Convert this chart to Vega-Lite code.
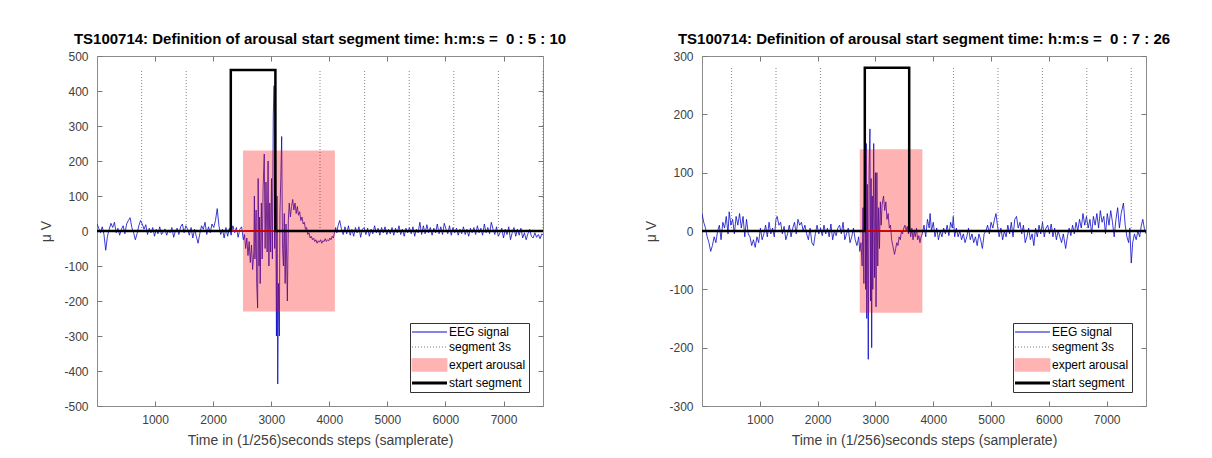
{
  "$schema": "https://vega.github.io/schema/vega-lite/v6.json",
  "background": "white",
  "padding": {"left": 39, "top": 31, "right": 0, "bottom": 0},
  "spacing": 77,
  "config": {
    "font": "Liberation Sans",
    "view": {"stroke": "#8c8c8c", "strokeWidth": 1},
    "axis": {"grid": false, "domain": false, "tickSize": -5, "tickColor": "#7a7a7a", "labelFont": "Liberation Sans", "labelFontSize": 12, "labelColor": "#404040", "titleFont": "Liberation Sans", "titleFontSize": 14, "titleFontWeight": "normal", "titleColor": "#404040", "labelExpr": "'' + datum.value"},
    "title": {"font": "Liberation Sans", "fontSize": 15, "fontWeight": "bold", "color": "#000000", "offset": 3, "anchor": "middle"},
    "legend": {"orient": "bottom-right", "offset": 14, "title": null, "padding": 3, "strokeColor": "#333333", "fillColor": "white", "labelFont": "Liberation Sans", "labelFontSize": 12, "labelColor": "#000000", "symbolType": "stroke", "symbolSize": 196, "rowPadding": 3, "labelOffset": 24, "symbolStrokeWidth": 1}
  },
  "resolve": {"scale": {"color": "independent"}, "legend": {"color": "independent"}},
  "datasets": {
    "eegA": [
      {"t":0,"v":20},{"t":30,"v":8},{"t":60,"v":-5},{"t":90,"v":12},{"t":120,"v":-10},{"t":150,"v":-55},{"t":180,"v":-15},{"t":210,"v":5},{"t":240,"v":22},{"t":270,"v":10},{"t":300,"v":25},{"t":330,"v":-5},{"t":360,"v":8},{"t":390,"v":-12},{"t":420,"v":5},{"t":450,"v":15},{"t":480,"v":-8},{"t":510,"v":20},{"t":540,"v":30},{"t":570,"v":38},{"t":600,"v":10},{"t":630,"v":-5},{"t":660,"v":-25},{"t":690,"v":-8},{"t":720,"v":15},{"t":750,"v":30},{"t":780,"v":20},{"t":810,"v":5},{"t":840,"v":18},{"t":870,"v":-10},{"t":900,"v":8},{"t":930,"v":-5},{"t":960,"v":10},{"t":990,"v":-15},{"t":1020,"v":5},{"t":1050,"v":-8},{"t":1080,"v":12},{"t":1110,"v":-10},{"t":1140,"v":-3},{"t":1170,"v":6},{"t":1200,"v":-12},{"t":1230,"v":3},{"t":1260,"v":-5},{"t":1290,"v":10},{"t":1320,"v":-18},{"t":1350,"v":0},{"t":1380,"v":8},{"t":1410,"v":-10},{"t":1440,"v":12},{"t":1470,"v":20},{"t":1500,"v":-5},{"t":1530,"v":15},{"t":1560,"v":5},{"t":1590,"v":-12},{"t":1620,"v":10},{"t":1650,"v":-20},{"t":1680,"v":5},{"t":1710,"v":-15},{"t":1740,"v":-35},{"t":1770,"v":-8},{"t":1800,"v":15},{"t":1830,"v":5},{"t":1860,"v":25},{"t":1890,"v":-10},{"t":1920,"v":12},{"t":1950,"v":-5},{"t":1980,"v":20},{"t":2010,"v":10},{"t":2040,"v":30},{"t":2070,"v":64},{"t":2100,"v":15},{"t":2130,"v":-10},{"t":2160,"v":5},{"t":2190,"v":-20},{"t":2220,"v":10},{"t":2250,"v":-15},{"t":2280,"v":8},{"t":2310,"v":-12},{"t":2340,"v":15},{"t":2370,"v":-5},{"t":2400,"v":10},{"t":2430,"v":-18},{"t":2460,"v":5},{"t":2490,"v":12},{"t":2520,"v":-25},
      {"t":2540,"v":-10},{"t":2560,"v":-50},{"t":2580,"v":-20},{"t":2600,"v":-70},{"t":2620,"v":-30},{"t":2640,"v":-90},{"t":2660,"v":-40},{"t":2680,"v":-110},{"t":2700,"v":-60},{"t":2710,"v":100},{"t":2720,"v":-80},{"t":2740,"v":60},{"t":2750,"v":-150},{"t":2766,"v":-220},{"t":2775,"v":150},{"t":2790,"v":-100},{"t":2800,"v":40},{"t":2810,"v":-150},{"t":2830,"v":80},{"t":2845,"v":-80},{"t":2860,"v":120},{"t":2880,"v":220},{"t":2895,"v":-50},{"t":2910,"v":140},{"t":2930,"v":-60},{"t":2946,"v":200},{"t":2960,"v":-100},{"t":2975,"v":80},{"t":2990,"v":-60},{"t":3005,"v":150},{"t":3020,"v":-80},{"t":3035,"v":330},{"t":3050,"v":415},{"t":3060,"v":-50},{"t":3075,"v":200},{"t":3090,"v":-300},{"t":3100,"v":100},{"t":3112,"v":-437},{"t":3125,"v":-150},{"t":3140,"v":-300},{"t":3150,"v":50},{"t":3165,"v":150},{"t":3180,"v":270},{"t":3195,"v":-50},{"t":3210,"v":-100},{"t":3225,"v":50},{"t":3240,"v":-150},{"t":3255,"v":20},{"t":3278,"v":-200},{"t":3295,"v":30},{"t":3310,"v":80},{"t":3330,"v":40},{"t":3350,"v":70},{"t":3370,"v":90},{"t":3390,"v":60},{"t":3410,"v":80},{"t":3430,"v":50},{"t":3450,"v":70},{"t":3470,"v":45},{"t":3490,"v":55},{"t":3510,"v":30},{"t":3530,"v":40},{"t":3550,"v":20},{"t":3570,"v":25},{"t":3590,"v":5},{"t":3610,"v":10},{"t":3630,"v":-10},{"t":3650,"v":-5},{"t":3670,"v":-20},{"t":3690,"v":-15},{"t":3710,"v":-25},{"t":3730,"v":-20},{"t":3750,"v":-30},{"t":3770,"v":-25},{"t":3790,"v":-35},{"t":3810,"v":-28},{"t":3830,"v":-32},{"t":3850,"v":-25},{"t":3870,"v":-35},{"t":3890,"v":-28},{"t":3910,"v":-30},{"t":3930,"v":-22},{"t":3950,"v":-30},{"t":3970,"v":-25},{"t":3990,"v":-28},{"t":4010,"v":-20},{"t":4030,"v":-25},{"t":4050,"v":-15},{"t":4070,"v":-20},{"t":4090,"v":-5},{"t":4110,"v":10},{"t":4130,"v":-5},{"t":4150,"v":15},{"t":4180,"v":30},{"t":4210,"v":5},
      {"t":4240,"v":-10},{"t":4270,"v":12},{"t":4300,"v":-8},{"t":4330,"v":15},{"t":4360,"v":-12},{"t":4390,"v":5},{"t":4420,"v":-15},{"t":4450,"v":10},{"t":4480,"v":-5},{"t":4510,"v":12},{"t":4540,"v":-18},{"t":4570,"v":5},{"t":4600,"v":10},{"t":4630,"v":-10},{"t":4660,"v":8},{"t":4690,"v":-15},{"t":4720,"v":5},{"t":4750,"v":-8},{"t":4780,"v":15},{"t":4810,"v":-5},{"t":4840,"v":8},{"t":4870,"v":-12},{"t":4900,"v":10},{"t":4930,"v":-5},{"t":4960,"v":12},{"t":4990,"v":-10},{"t":5020,"v":5},{"t":5050,"v":-8},{"t":5080,"v":10},{"t":5110,"v":-12},{"t":5140,"v":8},{"t":5170,"v":-5},{"t":5200,"v":15},{"t":5230,"v":-10},{"t":5260,"v":5},{"t":5290,"v":-15},{"t":5320,"v":8},{"t":5350,"v":-5},{"t":5380,"v":10},{"t":5410,"v":-8},{"t":5440,"v":12},{"t":5470,"v":-15},{"t":5500,"v":5},{"t":5530,"v":-5},{"t":5560,"v":25},{"t":5590,"v":-10},{"t":5620,"v":15},{"t":5650,"v":-8},{"t":5680,"v":18},{"t":5710,"v":-5},{"t":5740,"v":10},{"t":5770,"v":-12},{"t":5800,"v":8},{"t":5830,"v":-5},{"t":5860,"v":20},{"t":5890,"v":-8},{"t":5920,"v":12},{"t":5950,"v":-10},{"t":5980,"v":22},{"t":6010,"v":5},{"t":6040,"v":-8},{"t":6070,"v":15},{"t":6100,"v":-12},{"t":6130,"v":10},{"t":6160,"v":-5},{"t":6190,"v":8},{"t":6220,"v":-12},{"t":6250,"v":5},{"t":6280,"v":-8},{"t":6310,"v":12},{"t":6340,"v":-10},{"t":6370,"v":5},{"t":6400,"v":-15},{"t":6430,"v":8},{"t":6460,"v":-5},{"t":6490,"v":10},{"t":6520,"v":-10},{"t":6550,"v":15},{"t":6580,"v":-5},{"t":6610,"v":8},{"t":6640,"v":-12},{"t":6670,"v":20},{"t":6700,"v":-5},{"t":6730,"v":10},{"t":6760,"v":-8},{"t":6790,"v":25},{"t":6820,"v":5},{"t":6850,"v":-10},{"t":6880,"v":12},{"t":6910,"v":-15},{"t":6940,"v":-5},{"t":6970,"v":8},{"t":7000,"v":-20},{"t":7030,"v":5},{"t":7060,"v":-10},{"t":7090,"v":12},{"t":7120,"v":-25},{"t":7150,"v":-5},{"t":7180,"v":10},{"t":7210,"v":-15},{"t":7240,"v":5},{"t":7270,"v":-12},{"t":7300,"v":8},{"t":7330,"v":-20},{"t":7360,"v":-5},{"t":7390,"v":-25},{"t":7420,"v":-8},{"t":7450,"v":5},{"t":7480,"v":-15},{"t":7510,"v":-20},{"t":7540,"v":-5},{"t":7570,"v":-18},{"t":7600,"v":-10},{"t":7630,"v":-22},{"t":7660,"v":-8},{"t":7680,"v":-12}
    ],
    "eegB": [
      {"t":0,"v":30},{"t":30,"v":15},{"t":60,"v":5},{"t":90,"v":-10},{"t":120,"v":-20},{"t":150,"v":-35},{"t":180,"v":-25},{"t":210,"v":-10},{"t":240,"v":-20},{"t":270,"v":0},{"t":300,"v":10},{"t":330,"v":-15},{"t":360,"v":15},{"t":390,"v":5},{"t":420,"v":25},{"t":450,"v":-5},{"t":470,"v":33},{"t":500,"v":10},{"t":530,"v":20},{"t":560,"v":-5},{"t":590,"v":25},{"t":620,"v":10},{"t":650,"v":30},{"t":680,"v":5},{"t":710,"v":25},{"t":740,"v":-10},{"t":770,"v":20},{"t":800,"v":-5},{"t":830,"v":-10},{"t":860,"v":-25},{"t":890,"v":-15},{"t":920,"v":-28},{"t":950,"v":-10},{"t":980,"v":-20},{"t":1010,"v":5},{"t":1040,"v":-15},{"t":1070,"v":-5},{"t":1100,"v":10},{"t":1130,"v":-10},{"t":1160,"v":15},{"t":1190,"v":-5},{"t":1220,"v":5},{"t":1250,"v":-10},{"t":1280,"v":20},{"t":1300,"v":25},{"t":1330,"v":10},{"t":1360,"v":15},{"t":1390,"v":-5},{"t":1420,"v":8},{"t":1450,"v":-15},{"t":1480,"v":-5},{"t":1510,"v":10},{"t":1540,"v":-10},{"t":1570,"v":5},{"t":1600,"v":15},{"t":1630,"v":-5},{"t":1660,"v":20},{"t":1690,"v":10},{"t":1720,"v":15},{"t":1750,"v":0},{"t":1780,"v":10},{"t":1810,"v":-5},{"t":1840,"v":-15},{"t":1870,"v":5},{"t":1900,"v":-20},{"t":1930,"v":-25},{"t":1960,"v":-5},{"t":1990,"v":10},{"t":2020,"v":-5},{"t":2050,"v":5},{"t":2080,"v":-8},{"t":2110,"v":10},{"t":2140,"v":-5},{"t":2170,"v":5},{"t":2200,"v":-10},{"t":2230,"v":12},{"t":2260,"v":-15},{"t":2290,"v":0},{"t":2320,"v":-8},{"t":2350,"v":5},{"t":2380,"v":10},{"t":2410,"v":-5},{"t":2440,"v":15},{"t":2470,"v":-15},{"t":2500,"v":-5},{"t":2530,"v":5},{"t":2560,"v":-20},{"t":2590,"v":-10},{"t":2620,"v":5},{"t":2650,"v":-15},{"t":2680,"v":-25},{"t":2710,"v":-10},{"t":2730,"v":-35},
      {"t":2750,"v":-20},{"t":2770,"v":-60},{"t":2785,"v":40},{"t":2800,"v":-90},{"t":2812,"v":120},{"t":2822,"v":250},{"t":2830,"v":-100},{"t":2840,"v":150},{"t":2850,"v":-150},{"t":2860,"v":80},{"t":2876,"v":-220},{"t":2890,"v":100},{"t":2905,"v":175},{"t":2915,"v":-120},{"t":2925,"v":90},{"t":2935,"v":-200},{"t":2945,"v":60},{"t":2955,"v":-100},{"t":2970,"v":150},{"t":2985,"v":-80},{"t":3000,"v":100},{"t":3010,"v":-130},{"t":3025,"v":100},{"t":3040,"v":-60},{"t":3055,"v":40},{"t":3070,"v":-30},{"t":3085,"v":50},{"t":3100,"v":10},{"t":3115,"v":45},{"t":3140,"v":60},{"t":3160,"v":35},{"t":3180,"v":50},{"t":3200,"v":20},{"t":3220,"v":30},{"t":3240,"v":5},{"t":3260,"v":10},{"t":3280,"v":-15},{"t":3300,"v":-25},{"t":3330,"v":-40},{"t":3350,"v":-30},{"t":3370,"v":-20},{"t":3390,"v":-25},{"t":3410,"v":-10},{"t":3430,"v":-15},{"t":3450,"v":0},{"t":3470,"v":-5},{"t":3490,"v":5},{"t":3510,"v":10},{"t":3530,"v":0},{"t":3550,"v":8},{"t":3570,"v":-5},{"t":3590,"v":10},{"t":3610,"v":-10},{"t":3630,"v":5},{"t":3650,"v":-15},{"t":3670,"v":0},{"t":3690,"v":-10},{"t":3710,"v":5},{"t":3730,"v":-15},{"t":3750,"v":-8},{"t":3770,"v":-20},{"t":3790,"v":-10},{"t":3810,"v":-5},
      {"t":3840,"v":10},{"t":3870,"v":-10},{"t":3900,"v":20},{"t":3930,"v":5},{"t":3945,"v":30},{"t":3970,"v":0},{"t":4000,"v":15},{"t":4030,"v":-10},{"t":4060,"v":5},{"t":4090,"v":-15},{"t":4120,"v":0},{"t":4150,"v":-10},{"t":4180,"v":5},{"t":4210,"v":-5},{"t":4240,"v":10},{"t":4270,"v":-8},{"t":4300,"v":15},{"t":4330,"v":5},{"t":4346,"v":25},{"t":4370,"v":-10},{"t":4400,"v":5},{"t":4430,"v":-10},{"t":4460,"v":0},{"t":4490,"v":-15},{"t":4520,"v":-5},{"t":4550,"v":-20},{"t":4580,"v":-10},{"t":4610,"v":5},{"t":4640,"v":-15},{"t":4670,"v":-5},{"t":4700,"v":-20},{"t":4730,"v":-10},{"t":4760,"v":-25},{"t":4790,"v":-5},{"t":4820,"v":-15},{"t":4850,"v":-30},{"t":4880,"v":-5},{"t":4910,"v":0},{"t":4940,"v":10},{"t":4970,"v":-5},{"t":5000,"v":15},{"t":5030,"v":5},{"t":5060,"v":20},{"t":5085,"v":30},{"t":5110,"v":10},{"t":5140,"v":-10},{"t":5170,"v":5},{"t":5200,"v":-15},{"t":5230,"v":0},{"t":5260,"v":-10},{"t":5290,"v":10},{"t":5320,"v":-5},{"t":5350,"v":15},{"t":5380,"v":-10},{"t":5410,"v":20},{"t":5440,"v":25},{"t":5470,"v":5},{"t":5500,"v":15},{"t":5530,"v":-5},{"t":5560,"v":10},{"t":5590,"v":-20},{"t":5620,"v":-10},{"t":5650,"v":5},{"t":5680,"v":-15},{"t":5710,"v":-5},{"t":5740,"v":-25},{"t":5770,"v":5},{"t":5800,"v":-10},{"t":5830,"v":10},{"t":5860,"v":-5},{"t":5890,"v":15},{"t":5920,"v":-10},{"t":5950,"v":5},{"t":5980,"v":10},{"t":6010,"v":-5},{"t":6040,"v":12},{"t":6070,"v":-10},{"t":6100,"v":5},{"t":6130,"v":-15},{"t":6160,"v":0},{"t":6190,"v":-10},{"t":6220,"v":-20},{"t":6250,"v":-5},{"t":6290,"v":-30},{"t":6320,"v":-10},{"t":6350,"v":5},{"t":6380,"v":-8},{"t":6410,"v":10},{"t":6440,"v":-5},{"t":6470,"v":15},{"t":6500,"v":0},{"t":6530,"v":20},{"t":6560,"v":5},{"t":6590,"v":30},{"t":6620,"v":10},{"t":6650,"v":25},{"t":6680,"v":5},{"t":6710,"v":20},{"t":6740,"v":-5},{"t":6770,"v":25},{"t":6800,"v":10},{"t":6830,"v":30},{"t":6860,"v":5},{"t":6890,"v":35},{"t":6920,"v":15},{"t":6950,"v":25},{"t":6980,"v":-5},{"t":7010,"v":30},{"t":7040,"v":10},{"t":7070,"v":35},{"t":7100,"v":15},{"t":7130,"v":-10},{"t":7160,"v":20},{"t":7190,"v":40},{"t":7220,"v":5},{"t":7250,"v":30},{"t":7290,"v":48},{"t":7320,"v":10},{"t":7350,"v":-10},{"t":7380,"v":-20},{"t":7400,"v":5},{"t":7425,"v":-55},{"t":7450,"v":-20},{"t":7480,"v":-5},{"t":7510,"v":-15},{"t":7540,"v":0},{"t":7570,"v":-10},{"t":7600,"v":10},{"t":7625,"v":20},{"t":7650,"v":5},{"t":7680,"v":-5}
    ],
    "segA": [{"t":768},{"t":1536},{"t":2304},{"t":3072},{"t":3840},{"t":4608},{"t":5376},{"t":6144},{"t":6912},{"t":7680}],
    "segB": [{"t":512},{"t":1280},{"t":2048},{"t":2816},{"t":3584},{"t":4352},{"t":5120},{"t":5888},{"t":6656},{"t":7424}],
    "arA": [{"t1":2514,"t2":4096,"lo":-230,"hi":230}],
    "arB": [{"t1":2728,"t2":3812,"lo":-140,"hi":140}],
    "startA": [{"i":0,"t":0,"v":0},{"i":1,"t":2304,"v":0},{"i":2,"t":2304,"v":460},{"i":3,"t":3072,"v":460},{"i":4,"t":3072,"v":0},{"i":5,"t":7680,"v":0}],
    "startB": [{"i":0,"t":0,"v":0},{"i":1,"t":2816,"v":0},{"i":2,"t":2816,"v":280},{"i":3,"t":3584,"v":280},{"i":4,"t":3584,"v":0},{"i":5,"t":7680,"v":0}]
  },
  "hconcat": [
    {
      "width": 446,
      "height": 350,
      "title": "TS100714: Definition of arousal start segment time: h:m:s =\u00a0 0 : 5 : 10",
      "layer": [
        {
          "data": {"name": "eegA"},
          "mark": {"type": "line", "strokeWidth": 0.8, "clip": true},
          "encoding": {
            "x": {"field": "t", "type": "quantitative", "scale": {"domain": [0, 7680], "nice": false, "zero": false}, "axis": {"orient": "bottom", "values": [1000,2000,3000,4000,5000,6000,7000], "title": "Time in (1/256)seconds steps (samplerate)", "labelPadding": 13, "titlePadding": 8}},
            "y": {"field": "v", "type": "quantitative", "scale": {"domain": [-500, 500], "nice": false}, "axis": {"orient": "left", "values": [-500,-400,-300,-200,-100,0,100,200,300,400,500], "title": "μ V", "labelPadding": 14, "titlePadding": 10}},
            "color": {
              "datum": "EEG signal", "type": "nominal",
              "scale": {"domain": ["EEG signal", "segment 3s", "expert arousal", "start segment"], "range": ["#0a0ac8", "#777777", "#ffb3b3", "#000000"]},
              "legend": {
                "encoding": {"symbols": {
                  "shape": {"value": {"expr": "datum.value === 'expert arousal' ? 'M-1,-0.9H4V0.9H-1Z' : 'M-1,0H4'"}},
                  "fill": {"value": {"expr": "datum.value === 'expert arousal' ? '#ffb3b3' : 'transparent'"}},
                  "stroke": {"value": {"expr": "datum.value === 'EEG signal' ? '#0a0ac8' : datum.value === 'segment 3s' ? '#555555' : datum.value === 'start segment' ? '#000000' : 'transparent'"}},
                  "strokeWidth": {"value": {"expr": "datum.value === 'start segment' ? 3 : 1"}},
                  "strokeDash": {"value": {"expr": "datum.value === 'segment 3s' ? [1, 2] : [1, 0]"}}
                }}
              }
            }
          }
        },
        {
          "data": {"name": "segA"},
          "mark": {"type": "rule", "strokeDash": [1, 2], "color": "#666666", "strokeWidth": 0.8},
          "encoding": {
            "x": {"field": "t", "type": "quantitative", "axis": {"orient": "top", "values": [1000,2000,3000,4000,5000,6000,7000], "labels": false, "title": null}},
            "y": {"datum": 0, "type": "quantitative", "axis": null},
            "y2": {"datum": 460}
          }
        },
        {
          "data": {"name": "arA"},
          "mark": {"type": "rect", "color": "#ff0000", "opacity": 0.3},
          "encoding": {
            "x": {"field": "t1", "type": "quantitative", "axis": null},
            "x2": {"field": "t2"},
            "y": {"field": "lo", "type": "quantitative", "axis": {"orient": "right", "values": [-500,-400,-300,-200,-100,0,100,200,300,400,500], "labels": false, "title": null}},
            "y2": {"field": "hi"}
          }
        },
        {
          "data": {"name": "startA"},
          "mark": {"type": "rule", "color": "#cc0000", "strokeWidth": 0.8},
          "encoding": {"y": {"datum": 0, "type": "quantitative", "axis": null}}
        },
        {
          "data": {"name": "startA"},
          "mark": {"type": "line", "color": "#000000", "strokeWidth": 2.5},
          "encoding": {
            "x": {"field": "t", "type": "quantitative", "axis": null},
            "y": {"field": "v", "type": "quantitative", "axis": null},
            "order": {"field": "i"}
          }
        }
      ]
    },
    {
      "width": 444,
      "height": 350,
      "title": "TS100714: Definition of arousal start segment time: h:m:s =\u00a0 0 : 7 : 26",
      "layer": [
        {
          "data": {"name": "eegB"},
          "mark": {"type": "line", "strokeWidth": 0.8, "clip": true},
          "encoding": {
            "x": {"field": "t", "type": "quantitative", "scale": {"domain": [0, 7680], "nice": false, "zero": false}, "axis": {"orient": "bottom", "values": [1000,2000,3000,4000,5000,6000,7000], "title": "Time in (1/256)seconds steps (samplerate)", "labelPadding": 13, "titlePadding": 8}},
            "y": {"field": "v", "type": "quantitative", "scale": {"domain": [-300, 300], "nice": false}, "axis": {"orient": "left", "values": [-300,-200,-100,0,100,200,300], "title": "μ V", "labelPadding": 14, "titlePadding": 10}},
            "color": {
              "datum": "EEG signal", "type": "nominal",
              "scale": {"domain": ["EEG signal", "segment 3s", "expert arousal", "start segment"], "range": ["#0a0ac8", "#777777", "#ffb3b3", "#000000"]},
              "legend": {
                "encoding": {"symbols": {
                  "shape": {"value": {"expr": "datum.value === 'expert arousal' ? 'M-1,-0.9H4V0.9H-1Z' : 'M-1,0H4'"}},
                  "fill": {"value": {"expr": "datum.value === 'expert arousal' ? '#ffb3b3' : 'transparent'"}},
                  "stroke": {"value": {"expr": "datum.value === 'EEG signal' ? '#0a0ac8' : datum.value === 'segment 3s' ? '#555555' : datum.value === 'start segment' ? '#000000' : 'transparent'"}},
                  "strokeWidth": {"value": {"expr": "datum.value === 'start segment' ? 3 : 1"}},
                  "strokeDash": {"value": {"expr": "datum.value === 'segment 3s' ? [1, 2] : [1, 0]"}}
                }}
              }
            }
          }
        },
        {
          "data": {"name": "segB"},
          "mark": {"type": "rule", "strokeDash": [1, 2], "color": "#666666", "strokeWidth": 0.8},
          "encoding": {
            "x": {"field": "t", "type": "quantitative", "axis": {"orient": "top", "values": [1000,2000,3000,4000,5000,6000,7000], "labels": false, "title": null}},
            "y": {"datum": 0, "type": "quantitative", "axis": null},
            "y2": {"datum": 280}
          }
        },
        {
          "data": {"name": "arB"},
          "mark": {"type": "rect", "color": "#ff0000", "opacity": 0.3},
          "encoding": {
            "x": {"field": "t1", "type": "quantitative", "axis": null},
            "x2": {"field": "t2"},
            "y": {"field": "lo", "type": "quantitative", "axis": {"orient": "right", "values": [-300,-200,-100,0,100,200,300], "labels": false, "title": null}},
            "y2": {"field": "hi"}
          }
        },
        {
          "data": {"name": "startB"},
          "mark": {"type": "rule", "color": "#cc0000", "strokeWidth": 0.8},
          "encoding": {"y": {"datum": 0, "type": "quantitative", "axis": null}}
        },
        {
          "data": {"name": "startB"},
          "mark": {"type": "line", "color": "#000000", "strokeWidth": 2.5},
          "encoding": {
            "x": {"field": "t", "type": "quantitative", "axis": null},
            "y": {"field": "v", "type": "quantitative", "axis": null},
            "order": {"field": "i"}
          }
        }
      ]
    }
  ]
}
